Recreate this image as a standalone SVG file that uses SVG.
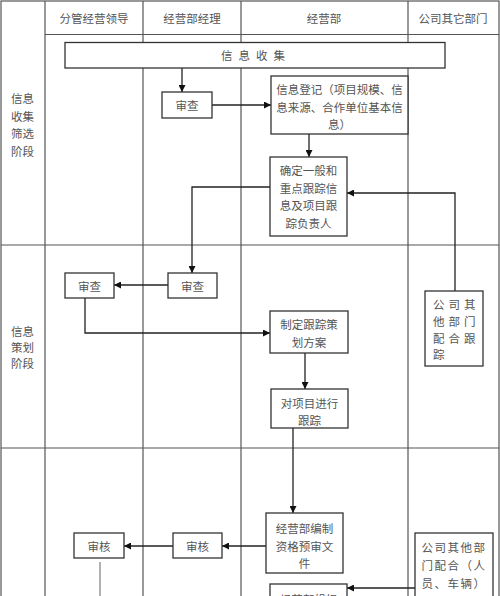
<svg xmlns="http://www.w3.org/2000/svg" width="500" height="596" viewBox="0 0 500 596">
<style>
.grid{stroke:#555;stroke-width:1.2;fill:none}
.box{fill:#fff;stroke:#333;stroke-width:1.3}
.t{font-family:"Noto Sans CJK SC","Noto Sans",sans-serif;font-size:11.5px;fill:#555;text-anchor:middle;dominant-baseline:central}
.c{stroke:#222;stroke-width:1.3;fill:none}
.arr{marker-end:url(#ah)}
</style>
<defs>
<marker id="ah" viewBox="0 0 8 8" refX="8" refY="4" markerWidth="7" markerHeight="7" markerUnits="userSpaceOnUse" orient="auto">
<path d="M0,0 L8,4 L0,8 z" fill="#111"/>
</marker>
</defs>
<rect width="500" height="596" fill="#fff"/>
<g id="grid">
<rect class="grid" x="1" y="1" width="498" height="600"/>
<line class="grid" x1="45" y1="1" x2="45" y2="596"/>
<line class="grid" x1="143" y1="1" x2="143" y2="596"/>
<line class="grid" x1="241" y1="1" x2="241" y2="596"/>
<line class="grid" x1="408" y1="1" x2="408" y2="596"/>
<line class="grid" x1="45" y1="34.5" x2="499" y2="34.5"/>
<line class="grid" x1="1" y1="245" x2="499" y2="245"/>
<line class="grid" x1="1" y1="448" x2="499" y2="448"/>
<text class="t" x="94" y="18">分管经营领导</text>
<text class="t" x="192" y="18">经营部经理</text>
<text class="t" x="324" y="18">经营部</text>
<text class="t" x="453" y="18">公司其它部门</text>
<text class="t" x="22.5" y="98">信息</text>
<text class="t" x="22.5" y="116">收集</text>
<text class="t" x="22.5" y="133">筛选</text>
<text class="t" x="22.5" y="151">阶段</text>
<text class="t" x="22.5" y="331">信息</text>
<text class="t" x="22.5" y="347">策划</text>
<text class="t" x="22.5" y="363">阶段</text>
</g>
<g id="connectors">
<path class="c arr" d="M182,68 V92"/>
<path class="c arr" d="M212,105 H271"/>
<path class="c arr" d="M309,134 V157"/>
<path class="c arr" d="M270,187 H192 V273"/>
<path class="c arr" d="M455,291 V193 H347"/>
<path class="c arr" d="M168,285 H114"/>
<path class="c arr" d="M85,298 V333 H270"/>
<path class="c arr" d="M305,353 V389"/>
<path class="c arr" d="M293,428 V513"/>
<path class="c arr" d="M266,546 H222"/>
<path class="c arr" d="M173,546 H124"/>
<path d="M100,562 V596" stroke="#888" stroke-width="1.3" fill="none"/>
<path class="c arr" d="M415,588 H347"/>
</g>
<g id="n-collect">
<rect class="box" x="65" y="42.5" width="380" height="25.5"/>
<text class="t" x="256" y="55" letter-spacing="6">信息收集</text>
</g>
<g id="n-review1">
<rect class="box" x="162" y="92" width="50" height="26"/>
<text class="t" x="187" y="105">审查</text>
</g>
<g id="n-register">
<rect class="box" x="271" y="76" width="137" height="58"/>
<text class="t" x="339.5" y="89">信息登记（项目规模、信</text>
<text class="t" x="339.5" y="107">息来源、合作单位基本信</text>
<text class="t" x="339.5" y="124">息）</text>
</g>
<g id="n-determine">
<rect class="box" x="270" y="157" width="77" height="79"/>
<text class="t" x="308.5" y="170">确定一般和</text>
<text class="t" x="308.5" y="188">重点跟踪信</text>
<text class="t" x="308.5" y="205">息及项目跟</text>
<text class="t" x="308.5" y="223">踪负责人</text>
</g>
<g id="n-review2">
<rect class="box" x="168" y="273" width="49" height="25"/>
<text class="t" x="192.5" y="285.5">审查</text>
</g>
<g id="n-review3">
<rect class="box" x="65" y="273" width="49" height="25"/>
<text class="t" x="89.5" y="285.5">审查</text>
</g>
<g id="n-other1">
<rect class="box" x="425" y="291" width="58" height="75"/>
<text class="t" x="433" y="304" style="text-anchor:start" letter-spacing="4">公司其</text>
<text class="t" x="433" y="321" style="text-anchor:start" letter-spacing="4">他部门</text>
<text class="t" x="433" y="338" style="text-anchor:start" letter-spacing="4">配合跟</text>
<text class="t" x="433" y="354" style="text-anchor:start">踪</text>
</g>
<g id="n-plan">
<rect class="box" x="270" y="311" width="78" height="42"/>
<text class="t" x="309" y="324">制定跟踪策</text>
<text class="t" x="309" y="342">划方案</text>
</g>
<g id="n-track">
<rect class="box" x="271" y="389" width="77" height="39"/>
<text class="t" x="309.5" y="403">对项目进行</text>
<text class="t" x="309.5" y="420">跟踪</text>
</g>
<g id="n-prepare">
<rect class="box" x="266" y="513" width="77" height="60"/>
<text class="t" x="304.5" y="528">经营部编制</text>
<text class="t" x="304.5" y="546">资格预审文</text>
<text class="t" x="304.5" y="563">件</text>
</g>
<g id="n-audit1">
<rect class="box" x="173" y="533" width="49" height="25"/>
<text class="t" x="197.5" y="545.5">审核</text>
</g>
<g id="n-audit2">
<rect class="box" x="74" y="533" width="50" height="25"/>
<text class="t" x="99" y="545.5">审核</text>
</g>
<g id="n-other2">
<rect class="box" x="415" y="533" width="78" height="70"/>
<text class="t" x="454" y="547" letter-spacing="1.5">公司其他部</text>
<text class="t" x="454" y="565" letter-spacing="1.5">门配合（人</text>
<text class="t" x="454" y="583" letter-spacing="1.5">员、车辆）</text>
</g>
<g id="n-organize">
<rect class="box" x="270" y="584" width="77" height="30"/>
<text class="t" x="308.5" y="599">经营部组织</text>
</g>
</svg>
